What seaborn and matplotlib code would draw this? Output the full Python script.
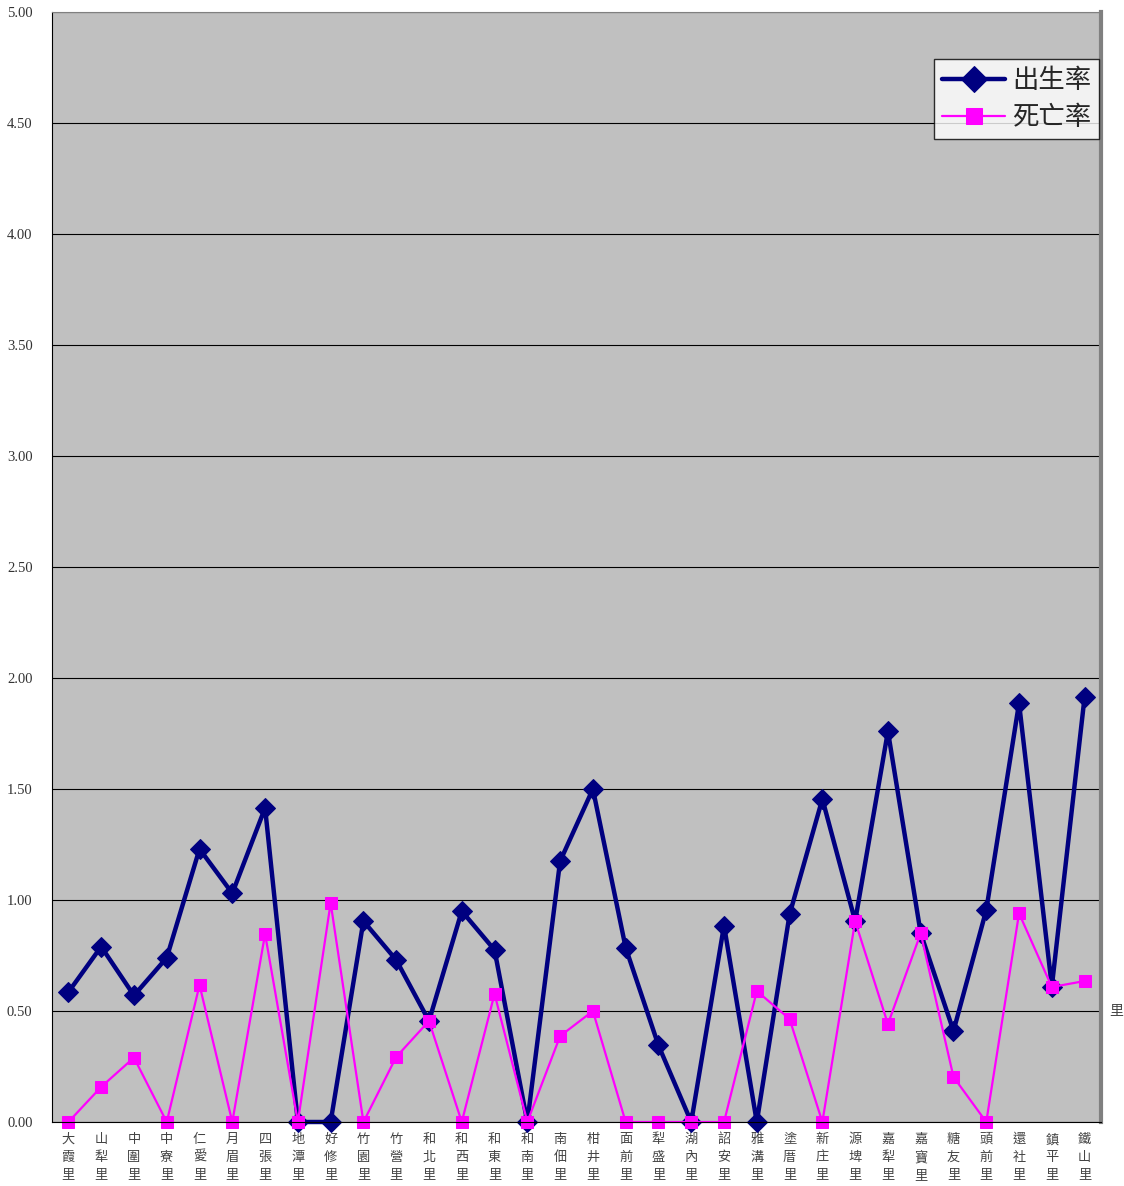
import numpy as np
import pandas as pd
import seaborn as sns
import matplotlib.pyplot as plt
from matplotlib.ticker import FixedLocator

villages = ["大霞里", "山犁里", "中圍里", "中寮里", "仁愛里", "月眉里", "四張里", "地潭里",
            "好修里", "竹園里", "竹營里", "和北里", "和西里", "和東里", "和南里", "南佃里",
            "柑井里", "面前里", "犁盛里", "湖內里", "詔安里", "雅溝里", "塗厝里", "新庄里",
            "源埤里", "嘉犁里", "嘉寶里", "糖友里", "頭前里", "還社里", "鎮平里", "鐵山里"]

birth_rate = [0.585, 0.79, 0.57, 0.74, 1.23, 1.03, 1.415, 0.0,
              0.0, 0.905, 0.73, 0.455, 0.95, 0.775, 0.0, 1.175,
              1.50, 0.785, 0.345, 0.0, 0.885, 0.0, 0.935, 1.455,
              0.905, 1.76, 0.85, 0.41, 0.955, 1.887, 0.61, 1.915]

death_rate = [0.0, 0.158, 0.29, 0.0, 0.617, 0.0, 0.847, 0.0,
              0.987, 0.0, 0.293, 0.455, 0.0, 0.577, 0.0, 0.387,
              0.50, 0.0, 0.0, 0.0, 0.0, 0.59, 0.464, 0.0,
              0.905, 0.441, 0.85, 0.203, 0.0, 0.94, 0.608, 0.635]

y_ticks = [0.0, 0.5, 1.0, 1.5, 2.0, 2.5, 3.0, 3.5, 4.0, 4.5, 5.0]

sns.set_style("white")
plt.rcParams['font.family'] = ['Noto Sans CJK TC', 'DejaVu Sans']

df = pd.DataFrame({"village": villages, "出生率": birth_rate, "死亡率": death_rate})
pos = np.arange(len(villages))

fig = plt.figure(figsize=(11.24, 11.86), dpi=100)
ax = fig.add_axes([52 / 1124, 64 / 1186, 1049 / 1124, 1110 / 1186])
ax.set_facecolor("#c0c0c0")

sns.lineplot(x=pos, y=df["出生率"], ax=ax, color="#000080", linewidth=3.2,
             marker="D", markersize=10, markeredgecolor="#000080", label="出生率", sort=False)
sns.lineplot(x=pos, y=df["死亡率"], ax=ax, color="#ff00ff", linewidth=1.6,
             marker="s", markersize=9, markeredgecolor="#ff00ff", label="死亡率", sort=False)
for ln in ax.lines:
    ln.set_clip_on(False)

ax.set_xlim(-0.5, len(villages) - 0.5)
ax.set_ylim(0, 5)
ax.set_yticks(y_ticks)
ax.set_yticklabels([f"{v:.2f}" for v in y_ticks], family="Liberation Serif", fontsize=10.5, color="#333333")
ax.yaxis.grid(True, color="black", linewidth=0.8)
ax.set_axisbelow(True)

ax.set_xticks(pos)
ax.set_xticklabels(["\n".join(v) for v in villages], fontsize=9.5, color="#444444", linespacing=1.45)
ax.tick_params(axis="x", length=0, pad=8)
ax.xaxis.set_minor_locator(FixedLocator(np.arange(-0.5, len(villages), 1)))
ax.tick_params(axis="x", which="minor", length=4, direction="out", color="black")
ax.tick_params(axis="y", length=0, pad=14)
ax.set_xlabel("")
ax.set_ylabel("")

ax.spines["left"].set_color("black")
ax.spines["bottom"].set_color("black")
ax.spines["top"].set_color("#808080")
ax.spines["right"].set_color("#808080")
ax.spines["right"].set_linewidth(3)

leg = ax.legend(loc="upper right", bbox_to_anchor=(0.998, 0.9577), borderaxespad=0, fontsize=19,
                frameon=True, fancybox=False, edgecolor="black", handlelength=2.4, borderpad=0.3,
                labelspacing=0.4, handletextpad=0.25, markerscale=1.35)
leg.get_frame().set_facecolor("white")
leg.get_frame().set_linewidth(1)

fig.text(1116 / 1124, 1 - 1010 / 1186, "里", fontsize=10, color="#444444", ha="center", va="center")

fig.savefig("out.png", dpi=100)
